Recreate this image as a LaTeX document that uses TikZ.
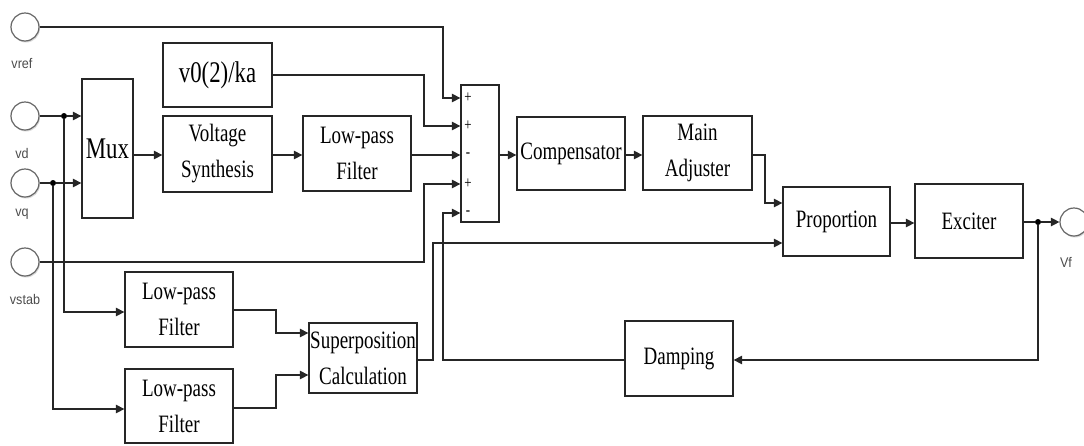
\documentclass[tikz,border=0pt]{standalone}
\usepackage{fontspec}
\setmainfont[FakeStretch=0.76]{Liberation Serif}
\newfontfamily\lblfont[FakeStretch=0.9]{Liberation Sans}
\usetikzlibrary{arrows.meta,shadows}

\begin{document}
\begin{tikzpicture}[x=1pt,y=-1pt,
  blk/.style={draw=black!85, line width=1.3pt, inner sep=0pt, align=center,
    font=\fontsize{25}{36}\selectfont},
  port/.style={circle, draw=black!60, line width=1.2pt, fill=white,
    minimum size=28pt, inner sep=0pt,
    drop shadow={shadow xshift=1pt, shadow yshift=-1.5pt, opacity=0.3}},
  wire/.style={line width=1.3pt, draw=black!85},
  arr/.style={wire, -{Triangle[length=8.5pt,width=8.5pt]}},
  lbl/.style={font=\lblfont\fontsize{14}{14}\selectfont, text=black!70},
  sgn/.style={font=\fontsize{17}{17}\selectfont},
  dot/.style={circle, fill=black, inner sep=0pt, minimum size=6pt}]
\useasboundingbox (0,0) rectangle (1084,445);

% input and output ports
\node[port] (vref)  at (25,27)  {};
\node[port] (vd)    at (25,116) {};
\node[port] (vq)    at (25,183) {};
\node[port] (vstab) at (25,262) {};
\node[port] (vf)    at (1074,222) {};
\node[lbl] (lref)  at (22,63)   {vref};
\node[lbl] (ld)    at (22,153)  {vd};
\node[lbl] (lq)    at (22,214)  {vq};
\node[lbl] (lstab) at (25,299)  {vstab};
\node[lbl] (lf)    at (1066,262) {Vf};

% blocks
\node[blk, minimum width=51pt, minimum height=139pt, font=\fontsize{30}{30}\selectfont] (mux) at (107.5,148.5) {Mux};
\node[blk, minimum width=109pt, minimum height=64pt, font=\fontsize{30}{30}\selectfont] (v0) at (217.5,75) {v0(2)/ka};
\node[blk, minimum width=109pt, minimum height=76pt] (vs) at (217.5,154) {Voltage\\Synthesis};
\node[blk, minimum width=108pt, minimum height=75pt] (lpf1) at (357,153.5) {Low-pass\\Filter};
\node[blk, minimum width=38pt, minimum height=137pt] (sum) at (480,153.5) {};
\node[blk, minimum width=108pt, minimum height=73pt] (comp) at (571,153.5) {Compensator};
\node[blk, minimum width=109pt, minimum height=74pt] (madj) at (697.5,153) {Main\\Adjuster};
\node[blk, minimum width=107pt, minimum height=69pt] (prop) at (836.5,221.5) {Proportion};
\node[blk, minimum width=108pt, minimum height=74pt] (exc) at (969,221) {Exciter};
\node[blk, minimum width=108pt, minimum height=75pt] (lpf2) at (179,309.5) {Low-pass\\Filter};
\node[blk, minimum width=108pt, minimum height=74pt] (lpf3) at (179,406) {Low-pass\\Filter};
\node[blk, minimum width=108pt, minimum height=70pt] (sc) at (363,358) {Superposition\\Calculation};
\node[blk, minimum width=108pt, minimum height=75pt] (damp) at (679,358.5) {Damping};

% summing-point signs
\node[sgn] (s1) at (468,98)  {+};
\node[sgn] (s2) at (468,126) {+};
\node[sgn] (s3) at (468,155) {-};
\node[sgn] (s4) at (468,184) {+};
\node[sgn] (s5) at (468,213) {-};

% branch points
\node[dot] (jd) at (64,116) {};
\node[dot] (jq) at (53,183) {};
\node[dot] (jf) at (1038,222) {};

% input side
\draw[wire] (vd.east) -- (jd);
\draw[wire] (vq.east) -- (jq);
\draw[arr] (jd) -- (mux.west |- jd);
\draw[arr] (jq) -- (mux.west |- jq);
\draw[arr] (jd) |- (lpf2.west |- 0,312);
\draw[arr] (jq) |- (lpf3.west |- 0,409);
\draw[arr] (mux.east |- 0,155) -- (vs.west |- 0,155);
\draw[arr] (vs.east |- 0,155) -- (lpf1.west |- 0,155);

% into the summing point
\draw[arr] (vref.east) -- (443,27) |- (sum.west |- s1);
\draw[arr] (v0.east) -- (424,75) |- (sum.west |- s2);
\draw[arr] (lpf1.east |- s3) -- (sum.west |- s3);
\draw[arr] (vstab.east) -- (424,262) |- (sum.west |- s4);
\draw[arr] (damp.west |- 0,360) -- (443,360) |- (sum.west |- s5);

% lower filters and superposition
\draw[arr] (lpf2.east |- 0,310) -- (276,310) |- (sc.west |- 0,333);
\draw[arr] (lpf3.east |- 0,408) -- (276,408) |- (sc.west |- 0,375);
\draw[arr] (sc.east |- 0,360) -- (433,360) |- (prop.west |- 0,243);

% forward path
\draw[arr] (sum.east |- 0,155) -- (comp.west |- 0,155);
\draw[arr] (comp.east |- 0,155) -- (madj.west |- 0,155);
\draw[arr] (madj.east |- 0,155) -- (765,155) |- (prop.west |- 0,203);
\draw[arr] (prop.east |- 0,223) -- (exc.west |- 0,223);
\draw[wire] (exc.east |- jf) -- (jf);
\draw[arr] (jf) -- (vf.west);
\draw[arr] (jf) |- (damp.east |- 0,360);
\end{tikzpicture}
\end{document}
